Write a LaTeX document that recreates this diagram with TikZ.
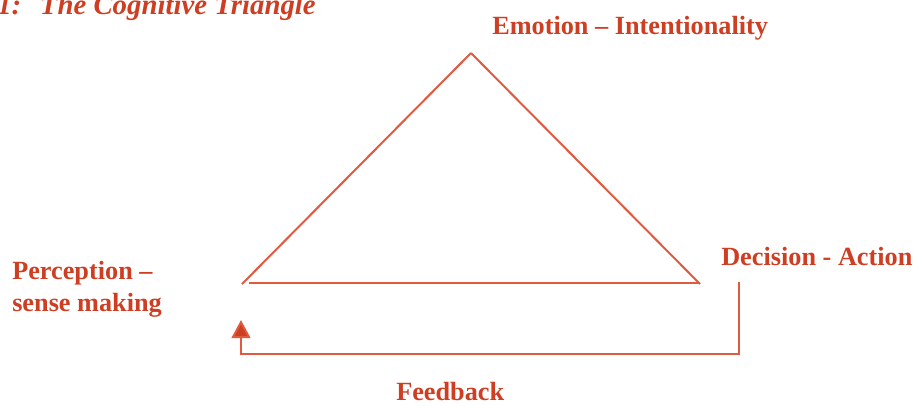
\documentclass[tikz,border=0pt]{standalone}
\usepackage{fontspec}
\setmainfont{Liberation Serif}
\usetikzlibrary{arrows.meta}
\definecolor{inkred}{RGB}{206,62,34}
\definecolor{linered}{RGB}{224,90,64}
\begin{document}
\begin{tikzpicture}[x=0.75pt,y=-0.75pt,
  caption/.style={text=inkred,font=\bfseries\fontsize{19.7}{23}\selectfont,inner sep=0pt},
  titletext/.style={text=inkred,font=\bfseries\itshape\fontsize{21.6}{25}\selectfont,inner sep=0pt},
  edge/.style={draw=linered,line width=1.5pt},
  fbtip/.style={-{Triangle[width=14pt,length=13.5pt,fill=inkred]}},
]
\clip (0,0) rectangle (915,405);
\useasboundingbox (0,0) rectangle (915,405);

% title
\node[titletext,anchor=base west] (title) at (-3,14) {1:\hspace{14pt}The Cognitive Triangle};

% triangle corners
\coordinate (apex) at (471,53);
\coordinate (left) at (242,284);
\coordinate (right) at (700,284);
\coordinate (baseL) at (249,283);
\coordinate (baseR) at (700,283);

\draw[edge] (apex) -- (left);
\draw[edge] (apex) -- (right);
\draw[edge] (baseL) -- (baseR);

% feedback loop
\coordinate (fbStart) at (739,282);
\coordinate (fbEnd) at (241,320);
\draw[edge,fbtip] (fbStart) |- (241,354) -- (fbEnd);

% labels
\node[caption,anchor=base west] (emotion) at (492,34) {Emotion -- Intentionality};
\node[caption,anchor=base west] (decision) at (721,265) {Decision - Action};
\node[caption,anchor=base west] (perception) at (12,279) {Perception --};
\node[caption,anchor=base west] (sense) at (12,311) {sense making};
\node[caption,anchor=base west] (feedback) at (396,400) {Feedback};
\end{tikzpicture}
\end{document}
